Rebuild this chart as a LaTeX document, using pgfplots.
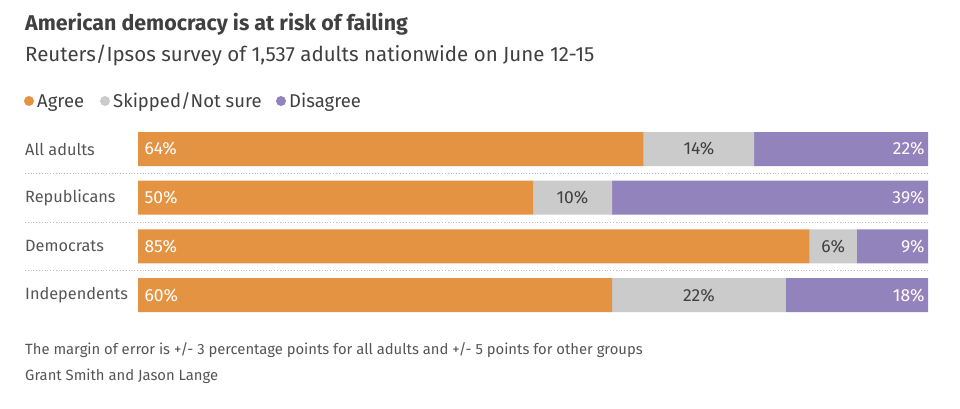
\documentclass[border=0pt]{standalone}
\usepackage{pgfplots}
\pgfplotsset{compat=1.18}
\usepackage{fontspec}
\setmainfont{Fira Sans}
\definecolor{agree}{HTML}{E49342}
\definecolor{skip}{HTML}{CBCBCB}
\definecolor{dis}{HTML}{9383BC}
\definecolor{txt}{HTML}{404040}
\definecolor{lab}{HTML}{555555}
\begin{document}
\begin{tikzpicture}[x=1pt,y=1pt]
\path[use as bounding box] (0,0) rectangle (960,-408);
% titles
\node[anchor=base west,inner sep=0,text=txt,font=\fontsize{21.4}{24}\selectfont\bfseries] at (25,-30) {American democracy is at risk of failing};
\node[anchor=base west,inner sep=0,text=txt,font=\fontsize{20.5}{22}\selectfont] at (25,-61) {Reuters/Ipsos survey of 1,537 adults nationwide on June 12-15};
% legend
\fill[agree] (29,-101) circle (5);
\node[anchor=base west,inner sep=0,text=txt,font=\fontsize{18.5}{20}\selectfont] at (37,-107) {Agree};
\fill[skip] (105,-101) circle (5);
\node[anchor=base west,inner sep=0,text=txt,font=\fontsize{18.5}{20}\selectfont] at (113,-107) {Skipped/Not sure};
\fill[dis] (281,-101) circle (5);
\node[anchor=base west,inner sep=0,text=txt,font=\fontsize{18.5}{20}\selectfont] at (289,-107) {Disagree};
% separators
\foreach \yy in {-173.5,-222,-270.5}
  \draw[black!25,dotted,line width=0.8pt] (25,\yy) -- (928,\yy);
% category labels
\foreach \lbl/\yy in {All adults/-149, Republicans/-198, Democrats/-246, Independents/-295}
  \node[anchor=west,inner sep=0,text=lab,font=\fontsize{16.3}{18}\selectfont] at (25,\yy) {\lbl};
\begin{axis}[
  at={(138pt,-124.7pt)}, anchor=north west,
  scale only axis, width=790pt, height=194.7pt,
  xbar stacked, bar width=34pt,
  xmin=0, xmax=100, ymin=-0.5, ymax=3.5, y dir=reverse,
  axis line style={draw=none}, tick style={draw=none},
  xtick=\empty, ytick=\empty,
  clip=false,
]
\addplot[fill=agree,draw=none] coordinates {(64,0) (50,1) (85,2) (60,3)};
\addplot[fill=skip,draw=none] coordinates {(14,0) (10,1) (6,2) (22,3)};
\addplot[fill=dis,draw=none] coordinates {(22,0) (40,1) (9,2) (18,3)};
\coordinate (a0) at (axis cs:0.8,0);
\coordinate (a1) at (axis cs:0.8,1);
\coordinate (a2) at (axis cs:0.8,2);
\coordinate (a3) at (axis cs:0.8,3);
\coordinate (s0) at (axis cs:71,0);
\coordinate (s1) at (axis cs:55,1);
\coordinate (s2) at (axis cs:88,2);
\coordinate (s3) at (axis cs:71,3);
\coordinate (d0) at (axis cs:99.6,0);
\coordinate (d1) at (axis cs:99.6,1);
\coordinate (d2) at (axis cs:99.6,2);
\coordinate (d3) at (axis cs:99.6,3);
\end{axis}
\tikzset{lw/.style={font=\fontsize{17.5}{19}\selectfont,inner sep=0}}
\node[lw,anchor=west,text=white] at (a0) {64\%};
\node[lw,anchor=west,text=white] at (a1) {50\%};
\node[lw,anchor=west,text=white] at (a2) {85\%};
\node[lw,anchor=west,text=white] at (a3) {60\%};
\node[lw,text=txt] at (s0) {14\%};
\node[lw,text=txt] at (s1) {10\%};
\node[lw,text=txt] at (s2) {6\%};
\node[lw,text=txt] at (s3) {22\%};
\node[lw,anchor=east,text=white] at (d0) {22\%};
\node[lw,anchor=east,text=white] at (d1) {39\%};
\node[lw,anchor=east,text=white] at (d2) {9\%};
\node[lw,anchor=east,text=white] at (d3) {18\%};
% footer
\node[anchor=base west,inner sep=0,text=lab,font=\fontsize{14.8}{16}\selectfont] at (25,-354) {The margin of error is +/- 3 percentage points for all adults and +/- 5 points for other groups};
\node[anchor=base west,inner sep=0,text=lab,font=\fontsize{14.8}{16}\selectfont] at (25,-380) {Grant Smith and Jason Lange};
\end{tikzpicture}
\end{document}
